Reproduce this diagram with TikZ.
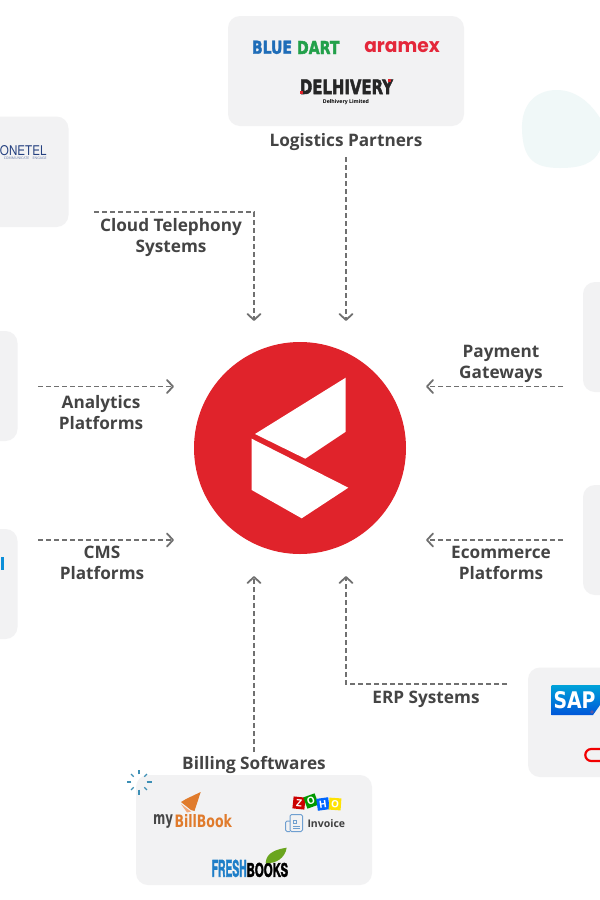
\documentclass[tikz,border=0pt]{standalone}
\usepackage{fontspec}
\usepackage{graphicx}
\setmainfont{Open Sans}
\newfontfamily\heavyfont{DejaVu Sans}
\newfontfamily\fatfont[RawFeature={embolden=2.5}]{DejaVu Sans Bold}
\newfontfamily\popfont{Poppins}
\newfontfamily\herosfont{TeX Gyre Heros}
\newfontfamily\fatheros[RawFeature={embolden=2.5}]{TeX Gyre Heros Bold}
\newcommand\fitbox[3]{\resizebox{#1pt}{#2pt}{#3}}
\definecolor{card}{HTML}{F2F2F3}
\definecolor{lbl}{HTML}{444444}
\definecolor{dash}{HTML}{707070}
\definecolor{brand}{HTML}{E0232B}
\definecolor{blob}{HTML}{F0F8F8}
\definecolor{bluedart}{HTML}{1F6DB8}
\definecolor{greendart}{HTML}{22A04A}
\definecolor{aramex}{HTML}{E4273A}
\definecolor{onetel}{HTML}{24407F}
\definecolor{mbb}{HTML}{E07B2C}
\definecolor{mbbl}{HTML}{F2A878}
\definecolor{fresh}{HTML}{1E7EC8}
\definecolor{leaf}{HTML}{6AA51E}
\definecolor{invblue}{HTML}{6F9FD0}
\definecolor{spark}{HTML}{3D8FB5}
\tikzset{
 lab/.style={text=lbl,font=\fontsize{17.2}{21}\selectfont\bfseries,align=center,inner sep=0pt},
 conn/.style={draw=dash,line width=1.3pt,dash pattern=on 5pt off 3pt},
 head/.style={draw=dash,line width=1.8pt,line cap=round,line join=round},
 logo/.style={inner sep=0pt,outer sep=0pt},
 tile/.style={inner sep=0pt,minimum width=12pt,minimum height=12pt,text=white,font=\fontsize{10}{10}\selectfont\bfseries}
}
\begin{document}
\begin{tikzpicture}[x=1pt,y=-1pt]
\useasboundingbox (0,0) rectangle (600,900);
\fill[white] (0,0) rectangle (600,900);
% blob
\fill[blob] (522,130) .. controls (521,105) and (535,90) .. (557,90) .. controls (575,90) and (590,102) .. (600,118) -- (600,150) .. controls (594,164) and (580,168) .. (560,168) .. controls (535,168) and (523,160) .. (522,130) -- cycle;
% cards
\fill[card,rounded corners=12pt] (228,16) rectangle (464,126);
\fill[card,rounded corners=12pt] (-40,116.500) rectangle (68.500,227);
\fill[card,rounded corners=12pt] (-40,331) rectangle (17.500,441);
\fill[card,rounded corners=12pt] (-40,529) rectangle (17.500,639);
\fill[card,rounded corners=12pt] (583,282) rectangle (640,392);
\fill[card,rounded corners=12pt] (583,485) rectangle (640,595);
\fill[card,rounded corners=12pt] (528,667.500) rectangle (640,777);
\fill[card,rounded corners=12pt] (136,775) rectangle (372,885);
% logistics logos
\node[logo,text=bluedart,anchor=south west] at (252,54) {\fitbox{40}{13}{\fatfont BLUE}};
\node[logo,text=greendart,anchor=south west] at (297,54) {\fitbox{42.500}{13}{\fatfont DART}};
\node[logo,text=aramex,anchor=base west] at (364.300,52.500) {\fitbox{75.500}{11}{\popfont\bfseries aramex}};
\node[logo,text=black!85,anchor=south west] at (300,94) {\fitbox{93}{14.500}{\fatfont DELHIVERY}};
\fill[brand] (300,91) rectangle (302.500,94);
\fill[brand] (388,79.300) rectangle (391,82);
\node[logo,text=black,font=\fontsize{5.200}{5}\selectfont\bfseries] at (346,101.800) {Delhivery Limited};
% onetel
\node[logo,anchor=south east,text=onetel] at (46.500,155.500) {\fitbox{46.500}{10}{\herosfont ONETEL}};
\node[logo,anchor=east,text=onetel!70,font=\fontsize{3.500}{4}\selectfont] at (46.500,158.500) {COMMUNICATE\quad ENGAGE};
% cms fragment
\fill[cyan!75!blue] (0.700,557) rectangle (3.500,570);
% SAP
\shade[top color=blue!25!cyan!85!black,bottom color=blue!60!cyan!85!black] (551.700,685) -- (600,685) -- (600,705) -- (593,715) -- (551.700,715) -- cycle;
\node[logo,text=white,anchor=south west] at (553.500,709) {\fitbox{42}{17}{\heavyfont\bfseries SAP}};
\fill[blue!30!gray] (592,712) circle (1.800pt);
% oracle
\draw[red!95!black,line width=2.200pt,rounded corners=6pt] (612,749) -- (585.300,749) -- (585.300,761) -- (612,761);
% billing logos
\fill[mbbl] (181,804) -- (191,811.500) -- (187,812.500) -- cycle;
\fill[mbb] (200.700,792) -- (194.500,811) -- (191,810) -- (181,802) -- (186,799) -- cycle;
\node[logo,anchor=south west,text=black!72] at (153,828) {\fitbox{20}{10}{\heavyfont\bfseries my}};
\node[logo,anchor=south west,text=mbb] at (174.500,828) {\fitbox{57.500}{13}{\heavyfont\bfseries BillBook}};
\node[tile,fill=red!80!black,rotate=-6] at (299,803) {Z};
\node[tile,fill=green!60!black,rotate=20] at (311,801) {O};
\node[tile,fill=blue!60!cyan,rotate=8] at (323,804) {H};
\node[tile,fill=yellow!85!orange,rotate=-4] at (335,804) {O};
\draw[invblue,line width=1pt,rounded corners=1.500pt] (290,814.500) rectangle (302.500,831.500);
\draw[invblue,line width=1pt,rounded corners=1.500pt] (290,821) -- (285.500,821) -- (285.500,831.500) -- (290,831.500);
\draw[invblue,line width=.8pt] (293,820) rectangle (296,823) (293,826) -- (300,826) (293,828.500) -- (300,828.500);
\node[logo,anchor=base west,font=\fontsize{10.500}{10}\selectfont\bfseries,text=black!75] at (307.500,827) {Invoice};
\node[logo,anchor=south west,text=fresh] at (211.700,877) {\fitbox{35}{17}{\fatheros FRESH}};
\node[logo,anchor=south west,text=black] at (246.700,877) {\fitbox{41.500}{14}{\fatheros BOOKS}};
\fill[leaf] (286.700,847.700) .. controls (278,849) and (266,852) .. (265.700,863) .. controls (276,864) and (285,858) .. (286.700,847.700) -- cycle;
% sparkle
\foreach \a in {0,90,180,270}
  \draw[spark,line width=1.300pt] (139,782)++(\a:7.700pt) -- ++(\a:4.800pt);
\foreach \a in {45,135,225,315}
  \draw[spark,line width=1.300pt] (139,782)++(\a:7.500pt) -- ++(\a:3.800pt);
% central circle
\node[circle,fill=brand,minimum size=212pt,inner sep=0pt] (hub) at (300,448) {};
\fill[white] (255,434) -- (345.700,377.700) -- (345.700,431.700) -- (305.300,458.700) -- cycle;
\fill[white] (251.700,438.700) -- (348.300,487.700) -- (301.700,518.300) -- (251.700,490) -- cycle;
% labels
\node[lab] (lp) at (346,142) {Logistics Partners};
\node[lab] (ct) at (171,237.500) {Cloud Telephony\\Systems};
\node[lab] (ap) at (101,412.500) {Analytics\\Platforms};
\node[lab] (cms) at (102,563) {CMS\\Platforms};
\node[lab] (pg) at (501,363.500) {Payment\\Gateways};
\node[lab] (ep) at (501,563) {Ecommerce\\Platforms};
\node[lab] (erp) at (426,699) {ERP Systems};
\node[lab] (bs) at (254,765) {Billing Softwares};
% anchors
\coordinate (hLP) at (346,320);
\coordinate (hCT) at (254,320);
\coordinate (hAP) at (173,386.500);
\coordinate (hCMS) at (173,540);
\coordinate (hPG) at (427,386.500);
\coordinate (hEP) at (427,540);
\coordinate (hBS) at (254,577);
\coordinate (hERP) at (346,577);
\coordinate (sLP) at (346,157);
\coordinate (sCT) at (94,212);
\coordinate (sAP) at (38,386.500);
\coordinate (sCMS) at (38,540);
\coordinate (sPG) at (563,386.500);
\coordinate (sEP) at (563,540);
\coordinate (sBS) at (254,752);
\coordinate (sERP) at (507,684);
% connectors
\draw[conn] (sLP) -- (hLP);
\draw[conn] (sCT) -- (254,212) -- (hCT);
\draw[conn] (sAP) -- (hAP);
\draw[conn] (sCMS) -- (hCMS);
\draw[conn] (sPG) -- (hPG);
\draw[conn] (sEP) -- (hEP);
\draw[conn] (sBS) -- (hBS);
\draw[conn] (sERP) -- (346,684) -- (hERP);
% heads
\draw[head] ([shift={(-6.500,-6)}]hLP) -- (hLP) -- ([shift={(6.500,-6)}]hLP);
\draw[head] ([shift={(-6.500,-6)}]hCT) -- (hCT) -- ([shift={(6.500,-6)}]hCT);
\draw[head] ([shift={(-6,-6.500)}]hAP) -- (hAP) -- ([shift={(-6,6.500)}]hAP);
\draw[head] ([shift={(-6,-6.500)}]hCMS) -- (hCMS) -- ([shift={(-6,6.500)}]hCMS);
\draw[head] ([shift={(6,-6.500)}]hPG) -- (hPG) -- ([shift={(6,6.500)}]hPG);
\draw[head] ([shift={(6,-6.500)}]hEP) -- (hEP) -- ([shift={(6,6.500)}]hEP);
\draw[head] ([shift={(-6.500,6)}]hBS) -- (hBS) -- ([shift={(6.500,6)}]hBS);
\draw[head] ([shift={(-6.500,6)}]hERP) -- (hERP) -- ([shift={(6.500,6)}]hERP);
\end{tikzpicture}
\end{document}
